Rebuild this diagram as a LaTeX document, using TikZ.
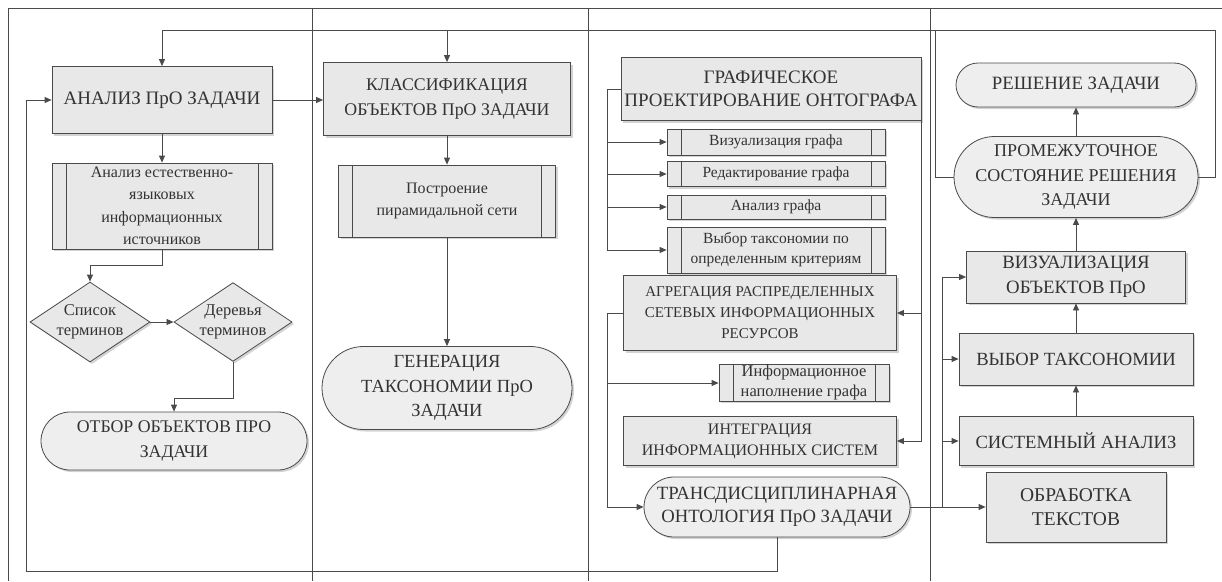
\documentclass[tikz,border=0pt]{standalone}
\usepackage{fontspec}
\setmainfont{Liberation Serif}
\usepackage{tikz}
\usetikzlibrary{positioning,arrows.meta,shapes.geometric,shapes.misc,shadows}
\definecolor{inkgray}{HTML}{333333}
\definecolor{wiregray}{HTML}{4A4A4A}
\definecolor{boxgray}{HTML}{E8E8E8}
\definecolor{pillgray}{HTML}{EEEEEE}
\newcommand{\lblcaps}[1][17.5]{\fontsize{#1}{24.5}\selectfont}
\newcommand{\lblmid}[1][15]{\fontsize{#1}{21}\selectfont}
\newcommand{\lblsmall}[1][15.5]{\fontsize{#1}{20}\selectfont}
\newcommand{\lblsrc}{\fontsize{16}{22.5}\selectfont}

\begin{document}
\begin{tikzpicture}[x=1pt, y=-1pt,
    frame/.style={draw=wiregray, line width=0.9pt},
    conn/.style={draw=wiregray, line width=0.8pt},
    arr/.style={conn, -{Triangle[length=7pt, width=6pt]}},
    procbox/.style={draw=wiregray, fill=boxgray, line width=0.8pt, text=inkgray, align=center, inner sep=1pt,
        drop shadow={shadow xshift=2pt, shadow yshift=-2pt, opacity=0.35}},
    subbox/.style={procbox, font=\lblsmall, path picture={
        \draw[wiregray, line width=0.8pt] ([xshift=14pt]path picture bounding box.north west) -- ([xshift=14pt]path picture bounding box.south west)
              ([xshift=-14pt]path picture bounding box.north east) -- ([xshift=-14pt]path picture bounding box.south east);}},
    termbox/.style={procbox, rounded rectangle, fill=pillgray},
    decbox/.style={procbox, diamond, aspect=1.5, inner sep=0pt, font={\lblsmall[16.5]}}]
    \useasboundingbox (0,0) rectangle (1222,581);

    \draw[frame] (8,581) -- (8,8) -- (1222,8);
    \foreach \x in {312, 588, 930}
        \draw[frame] (\x,8) -- (\x,581);

    % lane 1
    \node[procbox, minimum width=220pt, minimum height=67pt, font={\lblcaps[19]}] (anl) at (162,100) {АНАЛИЗ ПрО ЗАДАЧИ};
    \node[subbox, minimum width=220pt, minimum height=86pt, font=\lblsrc] (src) at (162,206) {Анализ естественно-\\языковых\\информационных\\источников};
    \node[decbox, minimum width=120pt, minimum height=80pt] (lst) at (90,322) {Список\\терминов};
    \node[decbox, minimum width=114pt, minimum height=76pt] (tree) at (233,322) {Деревья\\терминов};
    \node[termbox, minimum width=268pt, minimum height=58pt, font={\lblcaps[17.8]}] (otb) at (174,441) {ОТБОР ОБЪЕКТОВ ПРО\\ЗАДАЧИ};

    % lane 2
    \node[procbox, minimum width=247pt, minimum height=73pt, font={\lblcaps[17.8]}] (cls) at (447,99) {КЛАССИФИКАЦИЯ\\ОБЪЕКТОВ ПрО ЗАДАЧИ};
    \node[subbox, minimum width=217pt, minimum height=72pt, font=\lblsrc] (pyr) at (447,201) {Построение\\пирамидальной сети};
    \node[termbox, minimum width=252pt, minimum height=83pt, font={\lblcaps[18.5]}] (gen) at (447,388) {ГЕНЕРАЦИЯ\\ТАКСОНОМИИ ПрО\\ЗАДАЧИ};

    % lane 3
    \node[procbox, minimum width=300pt, minimum height=63pt, font=\fontsize{19}{23}\selectfont] (grf) at (771,89) {ГРАФИЧЕСКОЕ\\ПРОЕКТИРОВАНИЕ ОНТОГРАФА};
    \node[subbox, minimum width=218pt, minimum height=26pt] (viz) at (776,142) {Визуализация графа};
    \node[subbox, minimum width=218pt, minimum height=25pt] (edt) at (776,174) {Редактирование графа};
    \node[subbox, minimum width=218pt, minimum height=24pt] (ang) at (776,207) {Анализ графа};
    \node[subbox, minimum width=218pt, minimum height=46pt] (sel) at (776,250) {Выбор таксономии по\\определенным критериям};
    \node[procbox, minimum width=273pt, minimum height=75pt, font=\lblmid] (agr) at (760,313) {АГРЕГАЦИЯ РАСПРЕДЕЛЕННЫХ\\СЕТЕВЫХ ИНФОРМАЦИОННЫХ\\РЕСУРСОВ};
    \node[subbox, minimum width=170pt, minimum height=36pt, font={\lblsmall[16.5]}] (inf) at (804,383) {Информационное\\наполнение графа};
    \node[procbox, minimum width=273pt, minimum height=49pt, font={\lblmid[16]}] (int) at (760,441) {ИНТЕГРАЦИЯ\\ИНФОРМАЦИОННЫХ СИСТЕМ};
    \node[termbox, minimum width=268pt, minimum height=60pt, font=\fontsize{18.7}{23}\selectfont] (trn) at (777,507) {ТРАНСДИСЦИПЛИНАРНАЯ\\ОНТОЛОГИЯ ПрО ЗАДАЧИ};

    % lane 4
    \node[termbox, minimum width=242pt, minimum height=44pt, font={\lblcaps[18.8]}] (res) at (1076,85) {РЕШЕНИЕ ЗАДАЧИ};
    \node[termbox, minimum width=246pt, minimum height=81pt, font={\lblcaps[18]}] (prom) at (1076,177) {ПРОМЕЖУТОЧНОЕ\\СОСТОЯНИЕ РЕШЕНИЯ\\ЗАДАЧИ};
    \node[procbox, minimum width=219pt, minimum height=52pt, font={\lblcaps[18.8]}] (vizo) at (1076,277) {ВИЗУАЛИЗАЦИЯ\\ОБЪЕКТОВ ПрО};
    \node[procbox, minimum width=234pt, minimum height=52pt, font={\lblcaps[18.6]}] (vyb) at (1076,359) {ВЫБОР ТАКСОНОМИИ};
    \node[procbox, minimum width=234pt, minimum height=49pt, font={\lblcaps[18.6]}] (sys) at (1076,441) {СИСТЕМНЫЙ АНАЛИЗ};
    \node[procbox, minimum width=180pt, minimum height=70pt, font={\lblcaps[19.5]}] (obr) at (1076,507) {ОБРАБОТКА\\ТЕКСТОВ};

    \coordinate (topR) at (1215,30);
    \coordinate (topL) at (935,30);
    \coordinate (botL) at (26,571);
    \coordinate (busA) at (607,250);
    \coordinate (busC) at (607,507);
    \coordinate (busR) at (942,507);

    % feedback loops
    \draw[arr] (prom.east) -| (topR) -| (anl.north);
    \draw[conn] (prom.west) -| (topL);
    \draw[arr] (cls.north |- topR) -- (cls.north);
    \draw[arr] (trn.south) |- (botL) |- (anl.west);

    % lane 1
    \draw[arr] (anl.south) -- (src.north);
    \draw[arr] (src.south) -- ++(0,16) -| (lst.north);
    \draw[arr] (lst.east) -- (tree.west);
    \draw[arr] (tree.south) -- ++(0,37) -| (otb.north);
    \draw[arr] (anl.east) -- (anl.east -| cls.west);

    % lane 2
    \draw[arr] (cls.south) -- (pyr.north);
    \draw[arr] (pyr.south) -- (gen.north);

    % lane 3
    \draw[conn] (grf.west) -| (busA);
    \foreach \n in {viz, edt, ang, sel}
        \draw[arr] (busA |- \n.west) -- (\n.west);
    \draw[arr] (grf.east) |- (int.east);
    \draw[arr] (grf.east |- agr.east) -- (agr.east);
    \draw[arr] (agr.west) -| (busC) -- (trn.west);
    \draw[arr] (busC |- inf.west) -- (inf.west);
    \draw[arr] (trn.east) -- (obr.west);

    % lane 4
    \draw[conn] (busR) -- (busR |- vizo.west);
    \foreach \n in {vizo, vyb, sys}
        \draw[arr] (busR |- \n.west) -- (\n.west);
    \draw[arr] (sys.north) -- (vyb.south);
    \draw[arr] (vyb.north) -- (vizo.south);
    \draw[arr] (vizo.north) -- (prom.south);
    \draw[arr] (prom.north) -- (res.south);
\end{tikzpicture}
\end{document}
